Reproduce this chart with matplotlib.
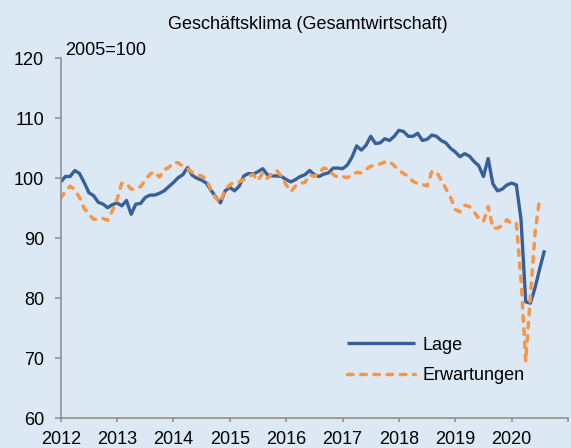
import matplotlib
matplotlib.use("Agg")
import matplotlib.pyplot as plt
import numpy as np

# Monthly values, Jan 2012 onward (2005=100)
lage = [
    99.4, 100.3, 100.3, 101.3, 100.8, 99.3, 97.6, 97.1, 96.0, 95.7, 95.1, 95.6,   # 2012
    95.9, 95.4, 96.3, 94.0, 95.7, 95.8, 96.8, 97.2, 97.2, 97.5, 97.9, 98.6,       # 2013
    99.3, 100.1, 100.6, 101.8, 100.5, 100.0, 99.7, 99.2, 98.0, 96.9, 95.9, 97.9,  # 2014
    98.5, 97.9, 98.7, 100.4, 100.8, 100.7, 101.1, 101.6, 100.6, 100.4, 100.4, 100.3,  # 2015
    99.8, 99.4, 99.8, 100.3, 100.6, 101.3, 100.6, 100.3, 100.7, 100.9, 101.7, 101.7,  # 2016
    101.6, 102.2, 103.5, 105.4, 104.7, 105.5, 107.0, 105.8, 105.9, 106.6, 106.3, 107.0,  # 2017
    108.0, 107.8, 107.0, 107.0, 107.5, 106.3, 106.5, 107.2, 107.0, 106.3, 105.9, 105.0,  # 2018
    104.4, 103.6, 104.1, 103.7, 102.8, 102.1, 100.3, 103.3, 99.1, 97.9, 98.2, 98.9,  # 2019
    99.2, 98.9, 93.1, 79.4, 79.2, 81.8, 85.0, 88.0,                                   # 2020
]
erwartungen = [
    96.7, 97.8, 98.7, 98.1, 96.8, 95.0, 94.0, 93.2, 93.1, 93.3, 93.0, 94.6,       # 2012
    96.5, 99.2, 99.1, 98.2, 98.2, 98.6, 99.7, 100.7, 101.1, 100.2, 101.4, 101.8,  # 2013
    102.6, 102.6, 102.0, 101.6, 101.0, 100.6, 100.4, 99.8, 98.1, 96.7, 96.0, 98.2,  # 2014
    98.9, 99.4, 99.4, 99.8, 100.4, 100.6, 99.6, 100.9, 100.0, 100.8, 101.3, 100.3,  # 2015
    98.9, 97.8, 98.7, 99.2, 99.3, 100.6, 100.3, 100.9, 101.7, 101.5, 100.6, 100.2,  # 2016
    100.3, 100.1, 100.5, 101.0, 100.9, 101.5, 102.0, 102.2, 102.4, 102.7, 102.8, 102.1,  # 2017
    101.3, 100.8, 100.3, 99.5, 99.1, 99.0, 98.7, 101.1, 101.1, 99.7, 98.3, 96.8,  # 2018
    94.8, 94.4, 95.5, 95.3, 94.4, 93.3, 92.8, 95.3, 91.7, 91.7, 92.1, 93.1,       # 2019
    92.4, 92.5, 83.0, 69.5, 80.4, 91.0, 96.9,                                     # 2020
]
years = list(range(2012, 2022))
year_labels = [str(y) for y in range(2012, 2021)] + [""]
yticks = [60, 70, 80, 90, 100, 110, 120]

BG = "#DCE9F5"
BLUE = "#36609A"
ORANGE = "#F79646"
SPINE = "#8A8A8A"
FONT = ["Liberation Sans", "DejaVu Sans"]
FS = 13

plt.rcParams["font.family"] = FONT

fig = plt.figure(figsize=(5.71, 4.48), dpi=100, facecolor=BG)
ax = fig.add_axes([60.7 / 571, 1 - 418.3 / 448, (568 - 60.7) / 571, (418.3 - 58.3) / 448])
ax.set_facecolor(BG)

x_l = 2012 + np.arange(len(lage)) / 12.0
x_e = 2012 + np.arange(len(erwartungen)) / 12.0

ax.plot(x_l, lage, color=BLUE, lw=2.4, label="Lage", solid_joinstyle="round", solid_capstyle="butt")
ax.plot(x_e, erwartungen, color=ORANGE, lw=2.5, label="Erwartungen",
        dashes=(1.6, 2.2), dash_capstyle="round")

ax.set_xlim(2012, 2021)
ax.set_ylim(60, 120)
ax.set_xticks(years)
ax.set_xticklabels(year_labels)
ax.set_yticks(yticks)
ax.set_yticklabels([str(v) for v in yticks])

for s in ["top", "right"]:
    ax.spines[s].set_visible(False)
for s in ["left", "bottom"]:
    ax.spines[s].set_color(SPINE)
    ax.spines[s].set_linewidth(1.1)

ax.tick_params(axis="y", direction="out", length=4.0, width=1.1, color=SPINE,
               labelsize=FS, pad=8, labelcolor="black")
ax.tick_params(axis="x", direction="out", length=3.0, width=1.1, color=SPINE,
               labelsize=FS, pad=6, labelcolor="black")

fig.text(308.3 / 571, 1 - 29 / 448, "Geschäftsklima (Gesamtwirtschaft)",
         ha="center", va="baseline", fontsize=FS, color="black")
fig.text(65 / 571, 1 - 55 / 448, "2005=100", ha="left", va="baseline",
         fontsize=FS, color="black")

leg = ax.legend(loc="center left", bbox_to_anchor=(346.7 / 571, 1 - 360.3 / 448),
                bbox_transform=fig.transFigure, frameon=False, fontsize=FS,
                handlelength=68 / 18.06, handletextpad=0.43, borderpad=0,
                borderaxespad=0, labelspacing=0.75)

fig.savefig("out.png", dpi=100, facecolor=BG)
